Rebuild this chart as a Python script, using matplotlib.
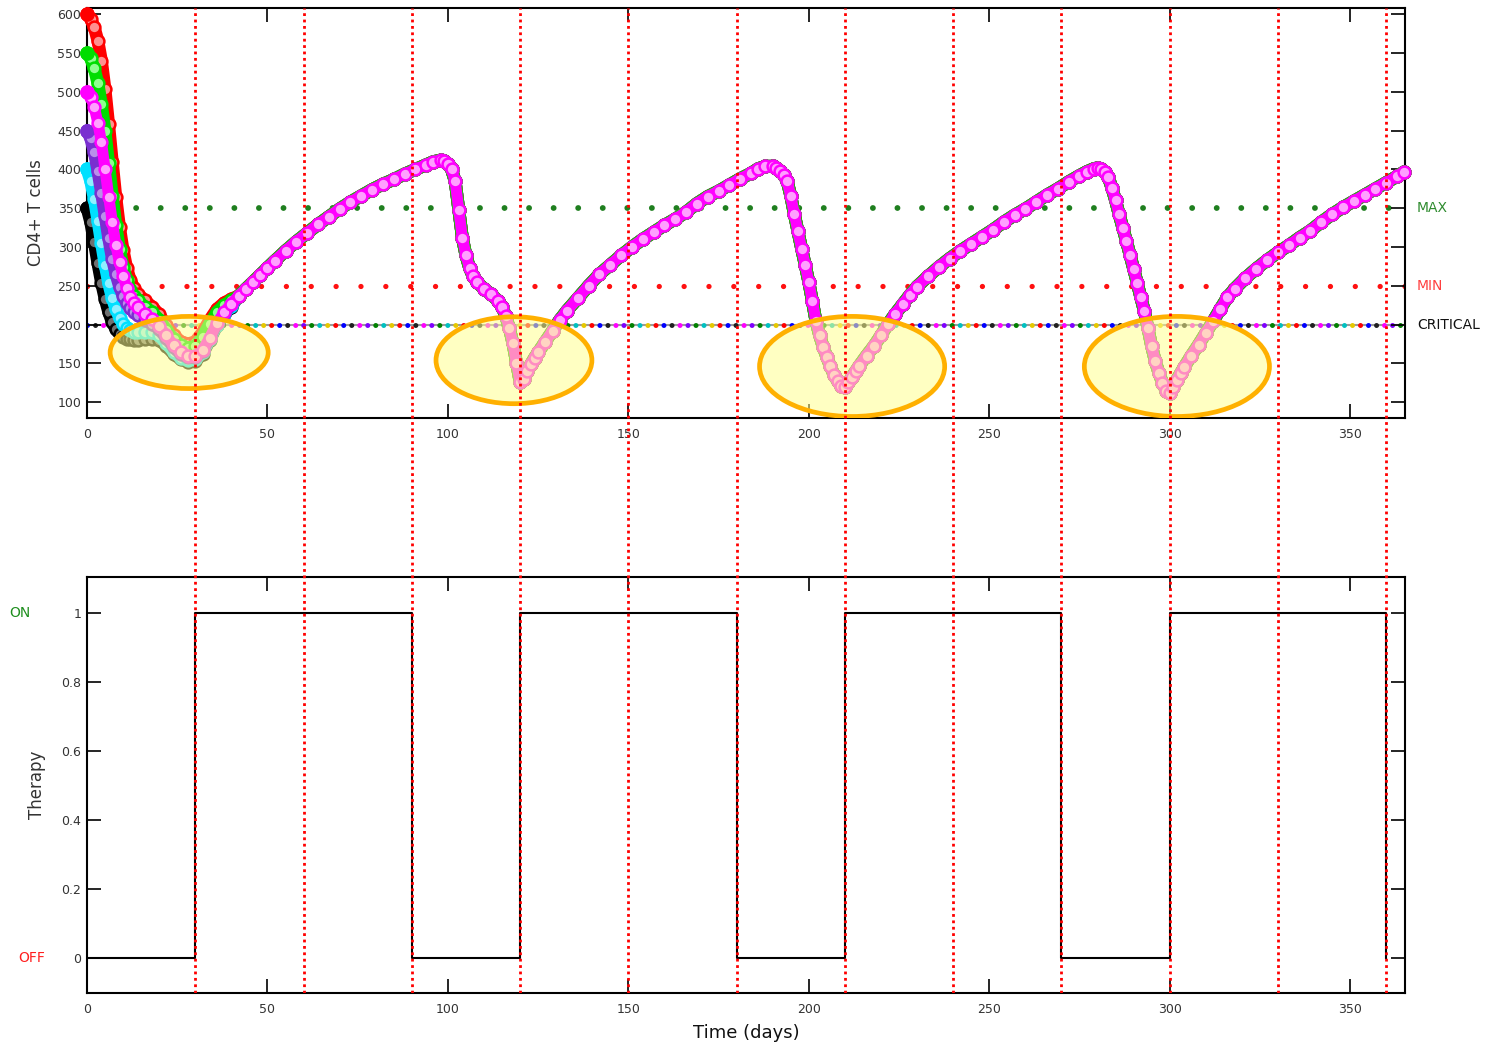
import matplotlib
matplotlib.use("Agg")
import matplotlib.pyplot as plt
from matplotlib.patches import Ellipse

# time grid for the first 40 days (each starting level has its own early decay)
t_early = [0, 1, 2, 3, 4, 5, 6, 7, 8, 9, 10, 11, 12, 13, 14, 16, 18, 20, 22, 24,
           26, 28, 30, 32, 34, 36, 38, 40]
red_early = [600, 594, 583, 566, 540, 503, 458, 410, 364, 326, 296, 273, 257, 247,
             240, 231, 223, 213, 199, 186, 178, 175, 178, 190, 206, 220, 228, 233]
green_early = [550, 543, 530, 511, 484, 449, 408, 366, 328, 297, 274, 257, 245, 237,
               231, 223, 216, 206, 193, 181, 173, 170, 172, 184, 201, 216, 225, 231]
magenta_early = [500, 493, 480, 460, 435, 400, 365, 332, 302, 280, 262, 247, 236, 228,
                 222, 213, 207, 198, 186, 173, 164, 160, 160, 167, 183, 202, 216, 227]
purple_early = [450, 440, 422, 398, 370, 340, 311, 285, 265, 249, 237, 228, 221, 216,
                212, 206, 201, 194, 183, 171, 162, 158, 158, 166, 183, 202, 215, 226]
cyan_early = [400, 385, 362, 334, 305, 277, 253, 234, 220, 209, 201, 196, 193, 191,
              190, 190, 190, 186, 176, 165, 157, 154, 155, 164, 181, 200, 214, 224]
black_early = [350, 332, 306, 279, 254, 233, 216, 203, 194, 188, 184, 182, 181, 180,
               180, 181, 182, 180, 172, 162, 155, 152, 153, 162, 180, 199, 213, 223]

# common trajectory after day 40 (all runs collapse onto it)
t_tail = [42, 44, 46, 48, 50, 52, 55, 58, 61, 64, 67, 70, 73, 76, 79, 82, 85, 88, 91, 94,
          96, 98, 99, 100, 101, 102, 103, 104, 105, 106, 107, 108, 110, 112, 114, 115,
          116, 117, 118, 119, 120, 121, 122, 123, 124, 125, 127, 129, 131, 133, 136, 139,
          142, 145, 148, 151, 154, 157, 160, 163, 166, 169, 172, 175, 178, 181, 184, 186,
          188, 190, 191, 192, 193, 194, 195, 196, 197, 198, 199, 200, 201, 202, 203, 204,
          205, 206, 207, 208, 209, 210, 211, 212, 213, 214, 216, 218, 220, 222, 224, 226,
          228, 230, 233, 236, 239, 242, 245, 248, 251, 254, 257, 260, 263, 266, 269, 272,
          275, 277, 279, 280, 281, 282, 283, 284, 285, 286, 287, 288, 289, 290, 291, 292,
          293, 294, 295, 296, 297, 298, 299, 300, 301, 302, 303, 304, 306, 308, 310, 312,
          314, 316, 318, 321, 324, 327, 330, 333, 336, 339, 342, 345, 348, 351, 354, 357,
          360, 363, 365]
cd4_tail = [237, 246, 255, 264, 273, 282, 295, 307, 318, 329, 339, 349, 358, 366, 374, 381,
            387, 394, 400, 406, 410, 412, 411, 407, 400, 385, 348, 312, 289, 273, 262, 255,
            246, 239, 230, 223, 211, 196, 176, 151, 126, 130, 140, 149, 157, 164, 178, 192,
            206, 218, 234, 250, 265, 277, 289, 300, 310, 319, 328, 336, 345, 356, 365, 372,
            380, 388, 395, 401, 404, 404, 402, 398, 393, 385, 366, 342, 320, 298, 277, 255,
            230, 204, 186, 171, 158, 146, 135, 127, 121, 119, 126, 133, 140, 147, 160, 172,
            186, 201, 214, 226, 238, 249, 262, 274, 285, 295, 304, 313, 322, 332, 341, 349,
            358, 367, 375, 384, 392, 397, 401, 402, 400, 396, 390, 376, 360, 342, 325, 308,
            290, 272, 254, 235, 217, 195, 172, 153, 138, 125, 115, 112, 120, 129, 137, 145,
            160, 174, 189, 204, 220, 235, 246, 260, 272, 283, 293, 302, 312, 321, 332, 342,
            351, 359, 367, 375, 383, 391, 397]

# therapy on/off schedule
therapy_t = [0, 30, 30, 90, 90, 120, 120, 180, 180, 210, 210, 270, 270, 300, 300, 360, 360]
therapy_v = [0, 0, 1, 1, 0, 0, 1, 1, 0, 0, 1, 1, 0, 0, 1, 1, 0]

# decision days (red dotted lines)
check_days = [30, 60, 90, 120, 150, 180, 210, 240, 270, 300, 330, 360]

cd4_max, cd4_min, cd4_critical = 350, 250, 200

fig = plt.figure(figsize=(14.98, 10.48), dpi=100)
L, W = 0.0581, 0.8798
ax1 = fig.add_axes([L, 0.6011, W, 0.3913])
ax2 = fig.add_axes([L, 0.0525, W, 0.3969])

tick_col = "#333333"

# reference levels
ax1.axhline(cd4_max, color="#1f7f1f", lw=4.2, ls=(0, (0.01, 4.2)),
            dash_capstyle="round", zorder=1)
ax1.axhline(cd4_min, color="#ff1010", lw=3.8, ls=(0, (0.01, 4.7)),
            dash_capstyle="round", zorder=1)
ax1.axhline(cd4_critical, color="#9a9a9a", lw=1.5, zorder=1)
crit_cols = ["#0000ff", "#ff0000", "#e6c800", "#00c0c0", "#008000", "#7f00ff",
             "#ff00ff", "#202020"]
for i, c in enumerate(crit_cols):
    ax1.axhline(cd4_critical, color=c, lw=3.6, ls=(i * 1.6, (0.01, 12.8)),
                dash_capstyle="round", zorder=1.2)

series = [
    (black_early, "#000000", "#707070"),
    (cyan_early, "#00e0ff", "#90f0ff"),
    (purple_early, "#7a2fd0", "#b890ea"),
    (red_early, "#ff0000", "#ff9090"),
    (green_early, "#00dd00", "#90ff90"),
    (magenta_early, "#ff00ff", "#ffa0ff"),
]
for k, (early, col, pale) in enumerate(series):
    tt = t_early + t_tail
    yy = early + cd4_tail
    big = col != "#ff00ff"
    ax1.plot(tt, yy, color=col, lw=9.2 if big else 8.0, solid_capstyle="round",
             solid_joinstyle="round", zorder=3 + k, clip_on=False)
    ax1.plot(tt, yy, ls="none", marker="o", ms=8.5, mfc=pale, mec=col, mew=1.8,
             zorder=3 + k, clip_on=False)
    ax1.plot([0], [early[0]], ls="none", marker="o", ms=9.5, color=col,
             zorder=3 + k, clip_on=False)

# highlighted minima
for cx, cy, w, h in [(28.3, 164, 43.8, 93), (118.3, 154, 43.2, 112),
                     (212, 146, 51.3, 129), (302, 146, 51.3, 129)]:
    ax1.add_patch(Ellipse((cx, cy), w, h, facecolor="#ffff90", alpha=0.55,
                          edgecolor="none", zorder=20))
    ax1.add_patch(Ellipse((cx, cy), w, h, facecolor="none", edgecolor="#ffb000",
                          lw=3.4, zorder=21))

ax1.text(368.5, cd4_max, "MAX", color="#2e8b2e", fontsize=10, va="center",
         clip_on=False)
ax1.text(368.5, cd4_min, "MIN", color="#ff4040", fontsize=10, va="center",
         clip_on=False)
ax1.text(368.5, cd4_critical, "CRITICAL", color="#111111", fontsize=10,
         va="center", clip_on=False)

ax1.set_xlim(0, 365.2)
ax1.set_ylim(79.5, 608)
ax1.set_yticks(range(100, 601, 50))
ax1.set_xticks(range(0, 351, 50))
ax1.set_ylabel("CD4+ T cells", fontsize=12, color=tick_col, labelpad=9)

# therapy panel
ax2.plot(therapy_t, therapy_v, color="black", lw=1.5)
ax2.set_xlim(0, 365.2)
ax2.set_ylim(-0.101, 1.104)
ax2.set_yticks([0, 0.2, 0.4, 0.6, 0.8, 1])
ax2.set_yticklabels(["0", "0.2", "0.4", "0.6", "0.8", "1"])
ax2.set_xticks(range(0, 351, 50))
ax2.set_ylabel("Therapy", fontsize=12, color=tick_col, labelpad=11)
ax2.set_xlabel("Time (days)", fontsize=13, color="#111111", labelpad=6)
ax2.text(-18.6, 1, "ON", color="#1f8f1f", fontsize=10, ha="center", va="center",
         clip_on=False)
ax2.text(-15.2, 0, "OFF", color="#ff2020", fontsize=10, ha="center", va="center",
         clip_on=False)

for ax in (ax1, ax2):
    ax.tick_params(direction="in", length=10, width=1.2, top=True, right=True,
                   labelsize=9, labelcolor=tick_col, pad=4)
    ax.tick_params(axis="x", pad=7)
    for s in ax.spines.values():
        s.set_linewidth(1.5)

# red dotted decision lines spanning both panels
ov = fig.add_axes([L, 0.0525, W, 0.9924 - 0.0525])
ov.set_xlim(0, 365.2)
ov.set_ylim(0, 1)
ov.axis("off")
for d in check_days:
    ov.axvline(d, color="#ff0000", lw=2.0, ls=(0, (1, 1.3)))

fig.savefig("out.png", dpi=100)
